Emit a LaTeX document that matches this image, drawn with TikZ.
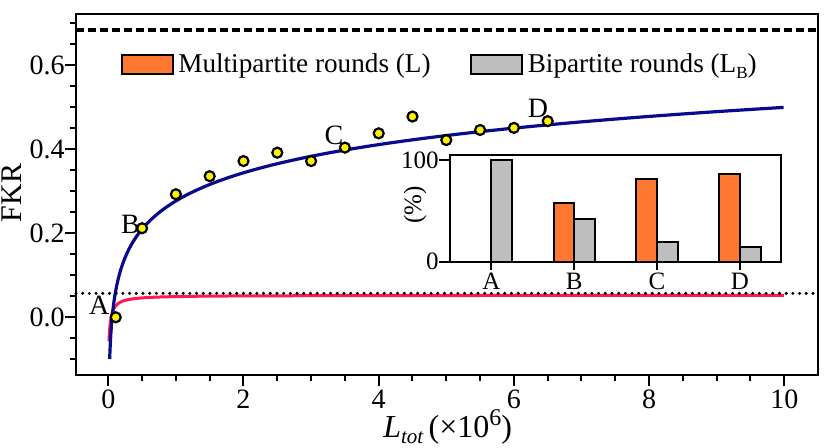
\documentclass[tikz,border=0pt]{standalone}
\usepackage{fontspec}
\setmainfont{Liberation Serif}
\definecolor{fkrblue}{RGB}{10,10,140}
\definecolor{fkrred}{RGB}{255,25,80}
\definecolor{fkrorange}{RGB}{255,120,50}
\definecolor{fkrgray}{RGB}{190,190,190}
\begin{document}
\begin{tikzpicture}[x=33.8pt, y=210pt,
  fkrpt/.style = {draw, circle, fill=yellow, line width=1.1pt, minimum size=5pt, inner sep=0pt},
  lbl/.style = {inner sep=0pt, font=\fontsize{14}{16}\selectfont},
  small/.style = {inner sep=0pt, font=\fontsize{12.5}{14}\selectfont},
  mbar/.style = {draw, line width=1pt, fill=fkrorange},
  bbar/.style = {draw, line width=1pt, fill=fkrgray}]
\useasboundingbox (-1.602,-0.3088) rectangle (10.691,0.7555);
% curves
\draw[fkrred, line width=1.5pt] plot[domain=-4.605:2.3026, samples=150] ({exp(\x)},{0.0525-0.00327/(exp(\x)+0.0197)});
\draw[fkrblue, line width=1.6pt] plot[domain=-3.887:2.3026, samples=150] ({exp(\x)},{0.277+0.0968*\x});
% reference lines
\draw[line width=1.6pt, dash pattern=on 4.2pt off 1.8pt] (-0.478,0.684) -- (10.497,0.684);
\draw[line width=1.7pt, line cap=round, dash pattern=on 0pt off 3.35pt] (-0.478,0.057) -- (10.497,0.057);
% data points
\foreach \px/\py [count=\k] in {0.11/0.0,0.5/0.212,1/0.293,1.5/0.336,2/0.372,2.5/0.392,3/0.372,3.5/0.404,4/0.438,4.5/0.478,5/0.422,5.5/0.446,6/0.451,6.5/0.467}
  \node[fkrpt] (p\k) at (\px,\py) {};
\node[lbl] (lA) at (-0.133,0.0293) {A};
\node[lbl] (lB) at (0.328,0.222) {B};
\node[lbl] (lC) at (3.339,0.433) {C};
\node[lbl] (lD) at (6.356,0.4976) {D};
% frame and ticks
\draw[line width=1.3pt] (-0.478,-0.1374) rectangle (10.497,0.7221);
\foreach \i in {-2,...,14}
  \draw[line width=1pt] (-0.478,\i*0.05) -- ++(-3pt,0);
\foreach \y [count=\k] in {0.0,0.2,0.4,0.6} {
  \draw[line width=1pt] (-0.478,\y) -- ++(-5.5pt,0);
  \node[lbl, anchor=east, xshift=-5.5pt] (yl\k) at (-0.478,\y) {\y};
}
\foreach \i in {0,...,20}
  \draw[line width=1pt] (\i*0.5,-0.1374) -- ++(0,-3pt);
\foreach \x in {0,2,4,6,8,10} {
  \draw[line width=1pt] (\x,-0.1374) -- ++(0,-5.5pt);
  \node[lbl] (xl\x) at (\x,-0.1945) {\x};
}
\node[inner sep=0pt, rotate=90, font=\fontsize{15}{18}\selectfont] (ylab) at (-1.43,0.296) {FKR};
\node[inner sep=0pt, anchor=base, font=\fontsize{16}{18}\selectfont] (xlab) at (5.02,-0.287)
  {\textit{L}\raisebox{-0.4ex}{\fontsize{10.5}{12}\selectfont\itshape tot}\,(×10\raisebox{0.85ex}{\fontsize{12}{14}\selectfont 6})};
% legend
\draw[mbar] (0.198,0.5793) rectangle (0.962,0.6245);
\node[inner sep=0pt, anchor=base west, font=\fontsize{13.6}{16}\selectfont] (leg1) at (1.03,0.582) {Multipartite rounds (L)};
\draw[bbar] (5.361,0.5793) rectangle (6.115,0.6245);
\node[inner sep=0pt, anchor=base west, font=\fontsize{13.6}{16}\selectfont] (leg2) at (6.2,0.582)
  {Bipartite rounds (L\raisebox{-0.45ex}{\fontsize{8.5}{10}\selectfont B})};
% inset
\begin{scope}[shift={(5.055,0.1324)}, x=41.4pt, y=0.5085pt]
  \fill[white] (0,0) rectangle (4,104.9);
  \foreach \c/\m/\b [count=\k] in {A/0/100,B/58/42,C/81/19,D/86/14} {
    \draw[mbar] (\k-0.75,0) rectangle (\k-0.5,\m);
    \draw[bbar] (\k-0.5,0) rectangle (\k-0.25,\b);
    \draw[line width=1pt] (\k-0.5,0) -- ++(0,-4pt);
    \node[small] (c\c) at (\k-0.5,-19.7) {\c};
  }
  \draw[line width=1pt] (0,0) rectangle (4,104.9);
  \draw[line width=1pt] (0,0) -- ++(-5.5pt,0) (0,100) -- ++(-5.5pt,0);
  \node[small, anchor=east, xshift=-5.5pt] (il0) at (0,0) {0};
  \node[small, anchor=east, xshift=-5.5pt] (il100) at (0,100) {100};
  \node[small, rotate=90] (ilab) at (-0.423,55.7) {(\%)};
\end{scope}
\end{tikzpicture}
\end{document}
